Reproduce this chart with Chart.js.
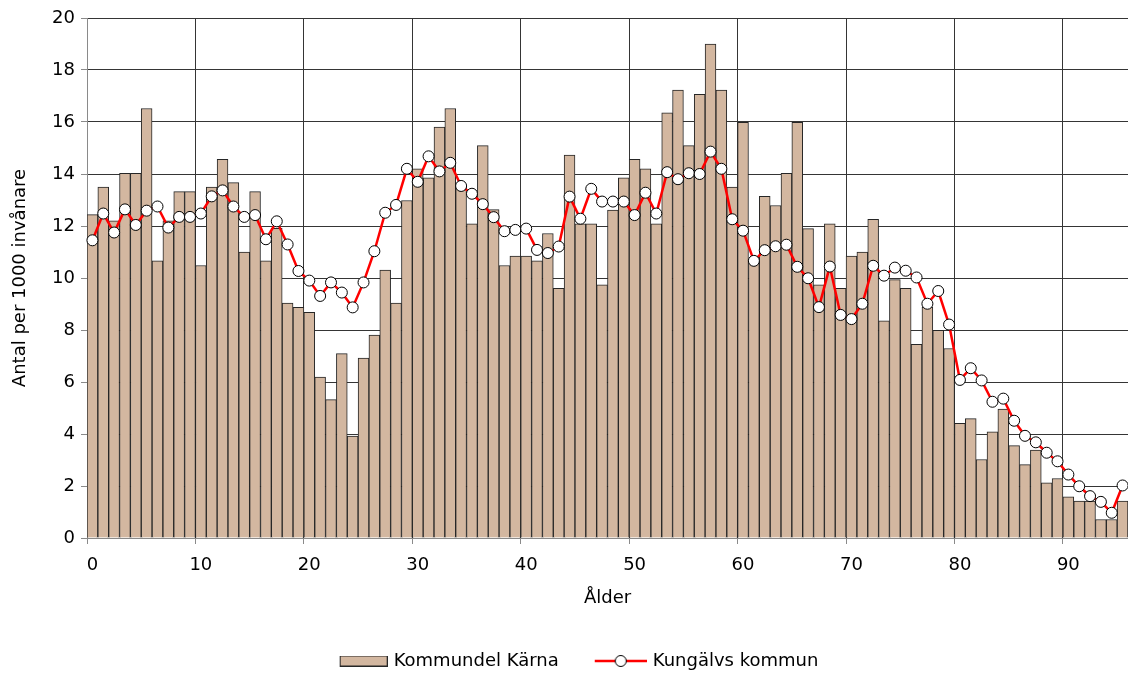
<!DOCTYPE html>
<html>
<head>
<meta charset="utf-8">
<script src="https://cdn.jsdelivr.net/npm/chart.js@4/dist/chart.umd.min.js"></script>
<style>
  html, body { margin: 0; padding: 0; background: #ffffff; }
  #wrap { width: 1128px; height: 673px; }
</style>
</head>
<body>
<div id="wrap"><canvas id="c" width="1128" height="673"></canvas></div>
<script>
// ---- data ----
const ages = Array.from({length: 96}, (_, i) => String(i));
const seriesNames = ["Kommundel Kärna", "Kungälvs kommun"];
const karna = [
  12.44, 13.5, 12.2, 14.03, 14.03, 16.52, 10.66, 12.2, 13.32, 13.32,
  10.48, 13.5, 14.56, 13.67, 11.0, 13.32, 10.66, 11.91, 9.04, 8.87,
  8.68, 6.19, 5.32, 7.09, 3.92, 6.92, 7.80, 10.30, 9.04, 12.98,
  14.20, 13.85, 15.80, 16.52, 13.54, 12.08, 15.09, 12.63, 10.48, 10.84,
  10.84, 10.66, 11.71, 9.60, 14.73, 12.08, 12.08, 9.74, 12.61, 13.85,
  14.56, 14.20, 12.08, 16.35, 17.23, 15.09, 17.06, 19.0, 17.23, 13.50,
  15.99, 10.7, 13.14, 12.79, 14.03, 15.99, 11.90, 9.74, 12.08, 9.60,
  10.84, 11.00, 12.26, 8.35, 9.94, 9.60, 7.45, 8.87, 7.99, 7.29,
  4.41, 4.59, 3.02, 4.08, 4.96, 3.55, 2.82, 3.38, 2.12, 2.29,
  1.58, 1.42, 1.42, 0.71, 0.71, 1.42
];
const kungalv = [
  11.45, 12.48, 11.75, 12.64, 12.04, 12.59, 12.75, 11.94, 12.35, 12.35,
  12.48, 13.14, 13.37, 12.75, 12.35, 12.42, 11.49, 12.18, 11.29, 10.27,
  9.90, 9.31, 9.83, 9.44, 8.87, 9.83, 11.03, 12.51, 12.81, 14.20,
  13.70, 14.68, 14.10, 14.43, 13.54, 13.24, 12.84, 12.34, 11.80, 11.85,
  11.90, 11.08, 10.96, 11.21, 13.13, 12.28, 13.43, 12.94, 12.94, 12.94,
  12.42, 13.28, 12.48, 14.07, 13.80, 14.03, 14.00, 14.86, 14.20, 12.26,
  11.82, 10.66, 11.07, 11.22, 11.28, 10.43, 9.99, 8.88, 10.44, 8.58,
  8.42, 9.01, 10.47, 10.09, 10.40, 10.28, 10.02, 9.01, 9.50, 8.21,
  6.08, 6.53, 6.06, 5.24, 5.36, 4.51, 3.93, 3.68, 3.28, 2.95,
  2.44, 1.99, 1.61, 1.39, 0.97, 2.02
];
const yTickValues = [0, 2, 4, 6, 8, 10, 12, 14, 16, 18, 20];
const xLabelEvery = 10;
const xTitle = "Ålder";
const yTitle = "Antal per 1000 invånare";

// ---- styles ----
const BAR_FILL = "#d3b7a0";
const BAR_EDGE = "#262626";
const LINE_RED = "#ff0000";
const GRID = "#353535";
const AXIS = "#8a8a8a";
const FONT = "'DejaVu Sans', sans-serif";
const MARK_W = 75;          // legend box width used for spacing
const IMG_W = MARK_W + 6;   // marker image width (content flush right)

function legendBarImg() {
  const c = document.createElement('canvas');
  c.width = IMG_W; c.height = 11;
  const g = c.getContext('2d');
  const x0 = IMG_W - 48;
  g.fillStyle = BAR_FILL; g.fillRect(x0 + 0.5, 0.5, 47, 10);
  g.strokeStyle = BAR_EDGE; g.lineWidth = 1; g.strokeRect(x0 + 0.5, 0.5, 47, 10);
  return c;
}
function legendLineImg() {
  const c = document.createElement('canvas');
  c.width = IMG_W; c.height = 14;
  const g = c.getContext('2d');
  const x0 = IMG_W - 52;
  g.strokeStyle = LINE_RED; g.lineWidth = 2.5;
  g.beginPath(); g.moveTo(x0, 7); g.lineTo(IMG_W, 7); g.stroke();
  g.beginPath(); g.arc(x0 + 26, 7, 5.5, 0, Math.PI * 2);
  g.fillStyle = "#ffffff"; g.fill();
  g.strokeStyle = "#000"; g.lineWidth = 1; g.stroke();
  return c;
}
const legendImgs = [legendBarImg(), legendLineImg()];

Chart.defaults.font.family = FONT;
Chart.defaults.font.size = 18;
Chart.defaults.color = "#000";

new Chart(document.getElementById('c'), {
  data: {
    labels: ages,
    datasets: [
      {
        type: 'bar',
        label: seriesNames[0],
        data: karna,
        backgroundColor: BAR_FILL,
        borderColor: BAR_EDGE,
        borderWidth: 1,
        barPercentage: 1.0,
        categoryPercentage: 1.0,
        order: 2
      },
      {
        type: 'line',
        label: seriesNames[1],
        data: kungalv,
        borderColor: LINE_RED,
        borderWidth: 2.5,
        pointRadius: 5.5,
        pointBackgroundColor: "#ffffff",
        pointBorderColor: "#000000",
        pointBorderWidth: 1,
        tension: 0,
        clip: false,
        order: 1
      }
    ]
  },
  options: {
    responsive: false,
    animation: false,
    devicePixelRatio: 1,
    layout: { autoPadding: false, padding: { top: 18, right: 0, left: 0, bottom: -7 } },
    plugins: {
      tooltip: { enabled: false },
      legend: {
        position: 'bottom',
        labels: {
          usePointStyle: true,
          pointStyleWidth: MARK_W,
          padding: 10,
          font: { size: 18 },
          color: "#000",
          sort: (a, b) => a.datasetIndex - b.datasetIndex,
          generateLabels: (chart) => {
            const items = Chart.defaults.plugins.legend.labels.generateLabels(chart);
            items.forEach((it) => { it.pointStyle = legendImgs[it.datasetIndex]; });
            return items;
          }
        }
      }
    },
    scales: {
      x: {
        type: 'category',
        offset: true,
        afterFit: (s) => { s.height = 104; s.paddingLeft = 0; s.paddingRight = 0; },
        grid: {
          offset: true,
          drawOnChartArea: true,
          drawTicks: true,
          tickLength: 6,
          color: (ctx) => (ctx.index > 0 && ctx.index % xLabelEvery === 0 && ctx.index < ages.length) ? GRID : 'rgba(0,0,0,0)',
          tickColor: (ctx) => (ctx.index % xLabelEvery === 0 && ctx.index < ages.length) ? AXIS : 'rgba(0,0,0,0)',
          lineWidth: 1
        },
        border: { display: true, color: AXIS, width: 1 },
        ticks: {
          autoSkip: false,
          maxRotation: 0,
          minRotation: 0,
          padding: 11,
          font: { size: 18 },
          color: "#000",
          callback: function (val, idx) { return idx % xLabelEvery === 0 ? this.getLabelForValue(val) : ''; }
        },
        title: { display: true, text: xTitle, font: { size: 18 }, color: "#000", padding: { top: 0, bottom: 33 } }
      },
      y: {
        type: 'linear',
        min: 0,
        max: 20,
        afterFit: (s) => { s.width = 87; },
        afterBuildTicks: (s) => { s.ticks = yTickValues.map(v => ({ value: v })); },
        grid: {
          color: (ctx) => (ctx.tick && ctx.tick.value === 0) ? 'rgba(0,0,0,0)' : GRID,
          tickColor: AXIS,
          tickLength: 6,
          lineWidth: 1
        },
        border: { display: true, color: AXIS, width: 1 },
        ticks: { padding: 6, font: { size: 18 }, color: "#000" },
        title: { display: true, text: yTitle, font: { size: 18 }, color: "#000", padding: { top: 10, bottom: 0 } }
      }
    }
  }
});
</script>
</body>
</html>
